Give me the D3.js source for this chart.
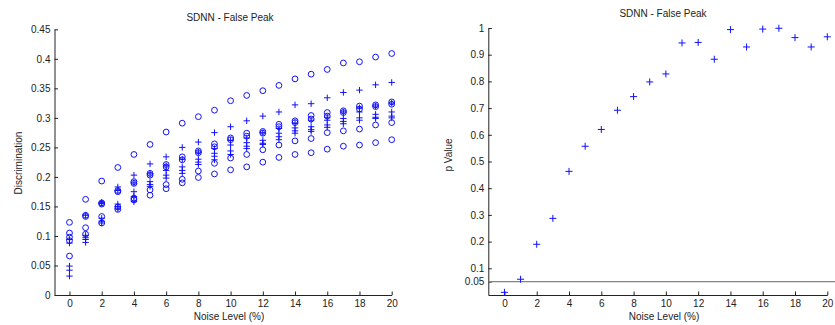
<!DOCTYPE html>
<html>
<head>
<meta charset="utf-8">
<script src="https://cdn.jsdelivr.net/npm/d3@7"></script>
<style>
  html, body { margin: 0; padding: 0; background: #fff; }
  svg { display: block; font-family: "Liberation Sans", Arial, sans-serif; }
  .axis text { font-size: 10px; fill: #222; }
  .axis path, .axis line { stroke: #222; }
  .label { font-size: 10px; fill: #222; }
</style>
</head>
<body>
<div id="chart"></div>
<script>
// ─── Data ───────────────────────────────────────────────────

const noiseLevels = [0, 1, 2, 3, 4, 5, 6, 7, 8, 9, 10, 11, 12, 13, 14, 15, 16, 17, 18, 19, 20];

// Discrimination, circle markers (top to bottom)
const circleA = [0.123, 0.162, 0.193, 0.216, 0.238, 0.255, 0.276, 0.291, 0.302, 0.313, 0.329, 0.338, 0.346, 0.355, 0.366, 0.374, 0.382, 0.393, 0.395, 0.403, 0.409];
const circleB = [0.105, 0.135, 0.156, 0.177, 0.192, 0.206, 0.221, 0.234, 0.244, 0.256, 0.266, 0.274, 0.277, 0.289, 0.295, 0.304, 0.309, 0.312, 0.320, 0.322, 0.327];
const circleC = [0.098, 0.133, 0.154, 0.175, 0.189, 0.203, 0.217, 0.229, 0.241, 0.251, 0.263, 0.269, 0.274, 0.285, 0.292, 0.298, 0.303, 0.309, 0.315, 0.319, 0.323];
const circleD = [0.092, 0.114, 0.133, 0.149, 0.164, 0.178, 0.187, 0.196, 0.210, 0.223, 0.232, 0.238, 0.246, 0.254, 0.261, 0.265, 0.275, 0.278, 0.281, 0.288, 0.292];
const circleE = [0.066, 0.103, 0.122, 0.145, 0.161, 0.169, 0.180, 0.190, 0.199, 0.205, 0.212, 0.217, 0.225, 0.233, 0.238, 0.241, 0.247, 0.252, 0.254, 0.258, 0.263];

// Discrimination, plus markers (top to bottom)
const plusA = [0.094, 0.135, 0.157, 0.183, 0.203, 0.222, 0.234, 0.250, 0.259, 0.275, 0.285, 0.295, 0.303, 0.310, 0.322, 0.324, 0.334, 0.343, 0.347, 0.356, 0.360];
const plusB = [0.088, 0.101, 0.155, 0.177, 0.190, 0.205, 0.219, 0.230, 0.242, 0.248, 0.262, 0.266, 0.275, 0.282, 0.291, 0.296, 0.301, 0.310, 0.317, 0.320, 0.325];
const plusC = [0.049, 0.097, 0.130, 0.154, 0.175, 0.192, 0.211, 0.217, 0.230, 0.240, 0.254, 0.258, 0.262, 0.274, 0.283, 0.285, 0.296, 0.299, 0.310, 0.306, 0.310];
const plusD = [0.042, 0.094, 0.125, 0.150, 0.167, 0.187, 0.203, 0.211, 0.225, 0.235, 0.244, 0.252, 0.257, 0.268, 0.278, 0.280, 0.288, 0.294, 0.300, 0.301, 0.303];
const plusE = [0.032, 0.089, 0.122, 0.146, 0.158, 0.184, 0.198, 0.206, 0.221, 0.229, 0.238, 0.248, 0.255, 0.263, 0.274, 0.277, 0.284, 0.290, 0.296, 0.299, 0.300];

// p value of the difference
const pValues = [0.010, 0.059, 0.190, 0.287, 0.463, 0.557, 0.620, 0.692, 0.743, 0.798, 0.828, 0.944, 0.946, 0.883, 0.994, 0.929, 0.996, 0.999, 0.964, 0.929, 0.967];
const significance = 0.05;

// Tick labels
const xTicks = [0, 2, 4, 6, 8, 10, 12, 14, 16, 18, 20];
const discTicks = [0, 0.05, 0.1, 0.15, 0.2, 0.25, 0.3, 0.35, 0.4, 0.45];
const pTicks = [0.05, 0.1, 0.2, 0.3, 0.4, 0.5, 0.6, 0.7, 0.8, 0.9, 1];

const chartTitle = "SDNN - False Peak";
const xLabel = "Noise Level (%)";

// ─── Setup ──────────────────────────────────────────────────

const W = 835, H = 325;
const BLUE = "#1010ff";

const svg = d3.select("#chart").append("svg")
  .attr("width", W)
  .attr("height", H);

function drawPluses(g, xs, ys, x, y, half) {
  g.selectAll(null)
    .data(ys.map((v, i) => [xs[i], v]))
    .enter()
    .append("path")
    .attr("d", d => {
      const px = x(d[0]), py = y(d[1]);
      return `M${px - half},${py}H${px + half}M${px},${py - half}V${py + half}`;
    })
    .attr("stroke", BLUE)
    .attr("stroke-width", 1)
    .attr("fill", "none");
}

function drawCircles(g, xs, ys, x, y, r) {
  g.selectAll(null)
    .data(ys.map((v, i) => [xs[i], v]))
    .enter()
    .append("circle")
    .attr("cx", d => x(d[0]))
    .attr("cy", d => y(d[1]))
    .attr("r", r)
    .attr("fill", "none")
    .attr("stroke", BLUE)
    .attr("stroke-width", 1);
}

function drawAxes(x, y, yTickVals, yFormat) {
  const xAxis = d3.axisBottom(x)
    .tickValues(xTicks)
    .tickSizeInner(-3.5)
    .tickSizeOuter(0)
    .tickPadding(5)
    .tickFormat(d3.format("d"));

  svg.append("g")
    .attr("class", "axis")
    .attr("transform", `translate(0,${y.range()[0]})`)
    .call(xAxis);

  const yAxis = d3.axisLeft(y)
    .tickValues(yTickVals)
    .tickSizeInner(-3.5)
    .tickSizeOuter(0)
    .tickPadding(4)
    .tickFormat(yFormat);

  svg.append("g")
    .attr("class", "axis")
    .attr("transform", `translate(${x.range()[0]},0)`)
    .call(yAxis);
}

const fmt = d => String(+d.toFixed(2));

// ─── Left: Discrimination ───────────────────────────────────

function renderDiscrimination() {
  const x = d3.scaleLinear().domain([-0.93, 20]).range([54.5, 391.7]);
  const y = d3.scaleLinear().domain([0, 0.45]).range([295, 29.3]);

  drawAxes(x, y, discTicks, fmt);

  const g = svg.append("g");
  [circleA, circleB, circleC, circleD, circleE].forEach(s => drawCircles(g, noiseLevels, s, x, y, 2.9));
  [plusA, plusB, plusC, plusD, plusE].forEach(s => drawPluses(g, noiseLevels, s, x, y, 3.2));

  svg.append("text").attr("class", "label")
    .attr("x", 230).attr("y", 21)
    .attr("text-anchor", "middle")
    .text(chartTitle);

  svg.append("text").attr("class", "label")
    .attr("x", 229).attr("y", 320)
    .attr("text-anchor", "middle")
    .text(xLabel);

  svg.append("text").attr("class", "label")
    .attr("transform", "translate(22,163) rotate(-90)")
    .attr("text-anchor", "middle")
    .text("Discrimination");
}

// ─── Right: p Value ─────────────────────────────────────────

function renderPValue() {
  const x = d3.scaleLinear().domain([-1, 20]).range([488.3, 827.3]);
  const y = d3.scaleLinear().domain([0, 1]).range([295, 28]);

  drawAxes(x, y, pTicks, fmt);

  // significance threshold
  svg.append("line")
    .attr("x1", x.range()[0])
    .attr("x2", W)
    .attr("y1", y(significance))
    .attr("y2", y(significance))
    .attr("stroke", "#858585")
    .attr("stroke-width", 1.3);

  const g = svg.append("g");
  drawPluses(g, noiseLevels, pValues, x, y, 3.5);

  svg.append("text").attr("class", "label")
    .attr("x", 663).attr("y", 17)
    .attr("text-anchor", "middle")
    .text(chartTitle);

  svg.append("text").attr("class", "label")
    .attr("x", 664).attr("y", 320)
    .attr("text-anchor", "middle")
    .text(xLabel);

  svg.append("text").attr("class", "label")
    .attr("transform", "translate(452,155) rotate(-90)")
    .attr("text-anchor", "middle")
    .text("p Value");
}

renderDiscrimination();
renderPValue();
</script>
</body>
</html>
